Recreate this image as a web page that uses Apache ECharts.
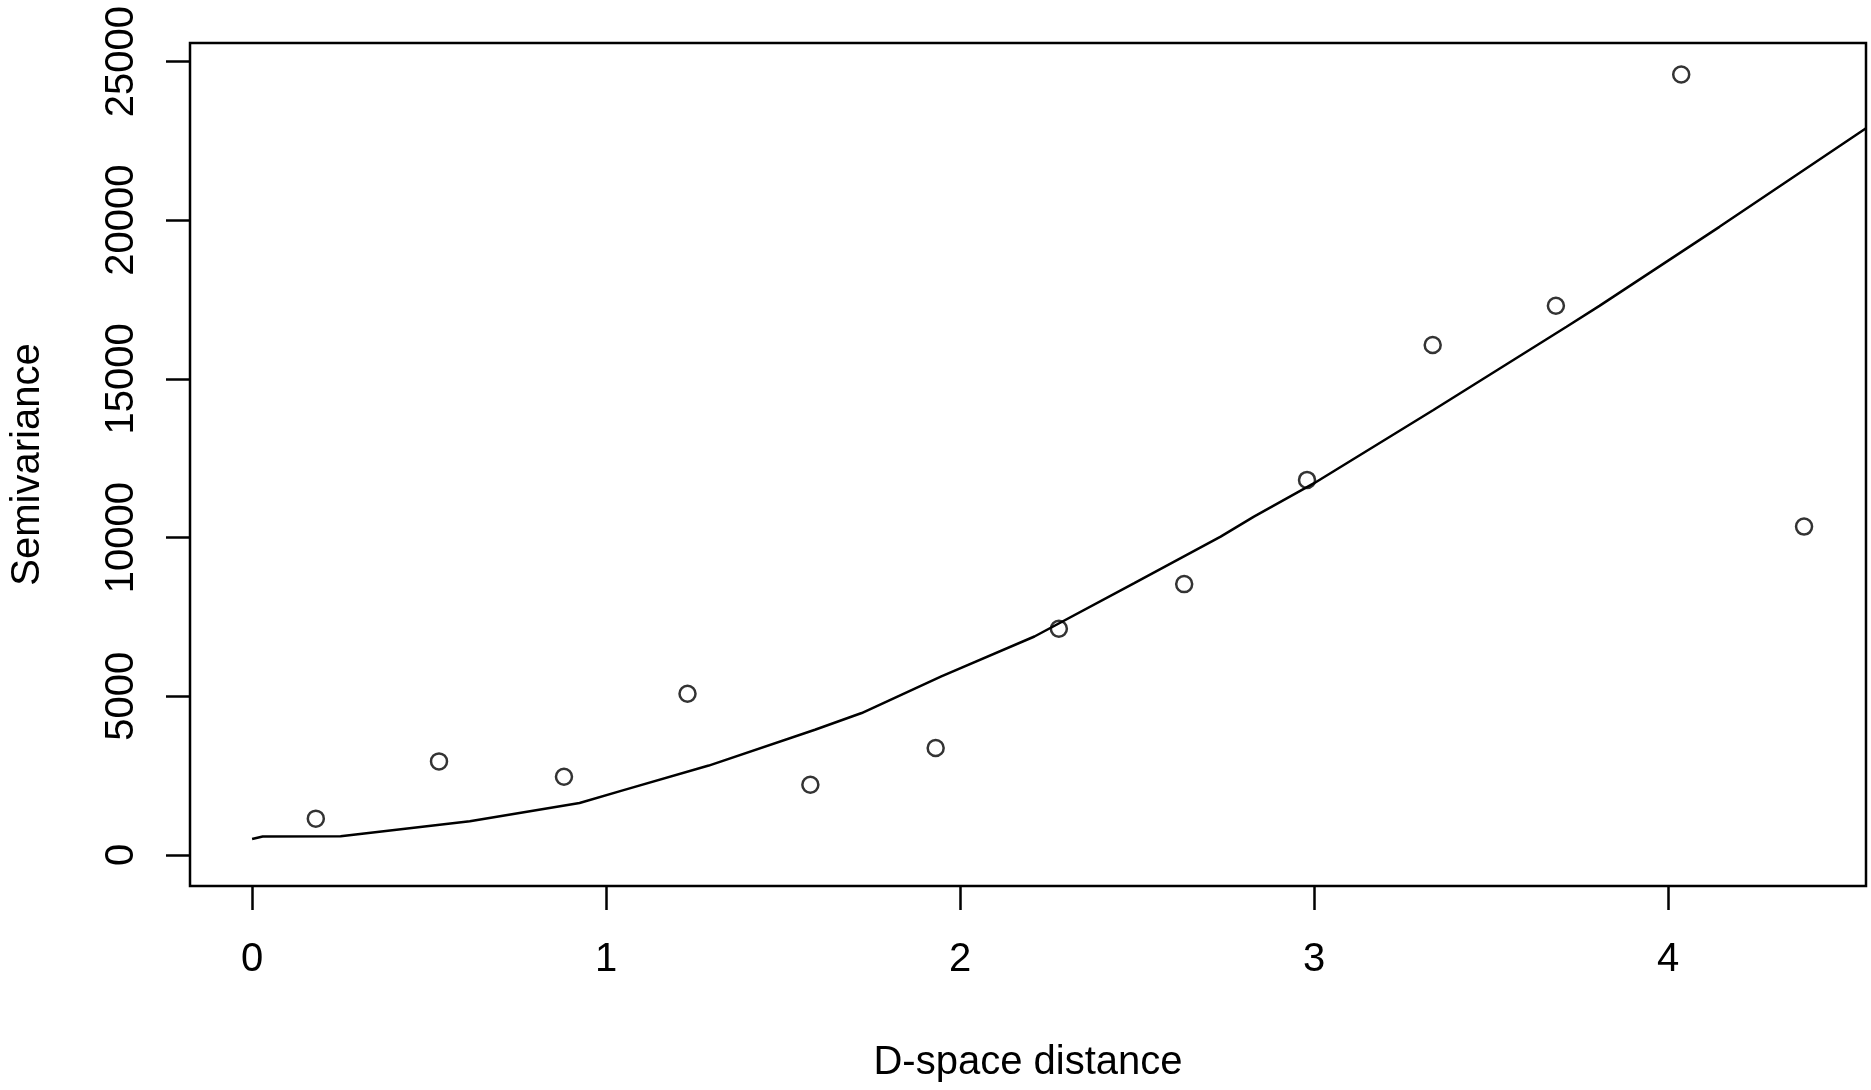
<!DOCTYPE html>
<html>
<head>
<meta charset="utf-8">
<script src="https://cdn.jsdelivr.net/npm/echarts@6/dist/echarts.min.js"></script>
<style>
html,body{margin:0;padding:0;background:#fff;}
#chart{width:1871px;height:1090px;}
</style>
</head>
<body>
<div id="chart"></div>
<script>
// Empirical semivariance points
const pointX = [0.180, 0.528, 0.881, 1.230, 1.577, 1.931, 2.279, 2.633, 2.980, 3.335, 3.683, 4.037, 4.384];
const pointY = [1143, 2947, 2465, 5079, 2213, 3369, 7125, 8533, 11817, 16067, 17305, 24590, 10346];
// Fitted model line
const lineX = [0.0, 0.03, 0.25, 0.615, 0.925, 1.047, 1.29, 1.59, 1.722, 1.947, 2.21, 2.492, 2.736, 2.83, 3.0, 3.337, 3.713, 3.806, 4.145, 4.558];
const lineY = [504, 580, 586, 1058, 1637, 2034, 2815, 3945, 4471, 5623, 6883, 8564, 10031, 10661, 11713, 14021, 16644, 17300, 19792, 22890];
// Tick values
const xTicks = [0, 1, 2, 3, 4];
const yTicks = [0, 5000, 10000, 15000, 20000, 25000];

const font = 'Liberation Sans, Arial, sans-serif';
const chart = echarts.init(document.getElementById('chart'), null, {renderer: 'canvas'});
chart.setOption({
  animation: false,
  backgroundColor: '#fff',
  grid: {
    left: 187, right: 5, top: 43, bottom: 204,
    show: true, borderColor: '#000', borderWidth: 2.5, backgroundColor: 'transparent'
  },
  xAxis: {
    type: 'value', min: -0.1754, max: 4.559,
    name: 'D-space distance', nameLocation: 'middle', nameGap: 157,
    nameTextStyle: {fontFamily: font, fontSize: 40, color: '#000'},
    axisLine: {show: false, onZero: false},
    splitLine: {show: false},
    axisTick: {show: true, inside: false, length: 24, customValues: xTicks, lineStyle: {color: '#000', width: 2.5}},
    axisLabel: {show: true, margin: 54, customValues: xTicks, fontFamily: font, fontSize: 40, color: '#000',
      formatter: v => String(v)}
  },
  yAxis: {
    type: 'value', min: -980, max: 25585,
    name: 'Semivariance', nameLocation: 'middle', nameGap: 142,
    nameTextStyle: {fontFamily: font, fontSize: 40, color: '#000'},
    axisLine: {show: false, onZero: false},
    splitLine: {show: false},
    axisTick: {show: true, inside: false, length: 24, customValues: yTicks, lineStyle: {color: '#000', width: 2.5}},
    axisLabel: {show: true, rotate: 90, margin: 48, customValues: yTicks, fontFamily: font, fontSize: 40, color: '#000',
      formatter: v => String(v)}
  },
  series: [
    {
      type: 'scatter',
      data: pointX.map((x, i) => [x, pointY[i]]),
      symbol: 'circle',
      symbolSize: 16,
      itemStyle: {color: 'rgba(0,0,0,0)', borderColor: '#000', borderWidth: 2.5}
    },
    {
      type: 'line',
      data: lineX.map((x, i) => [x, lineY[i]]),
      showSymbol: false,
      smooth: false,
      clip: true,
      lineStyle: {color: '#000', width: 2.5}
    }
  ]
});
</script>
</body>
</html>
